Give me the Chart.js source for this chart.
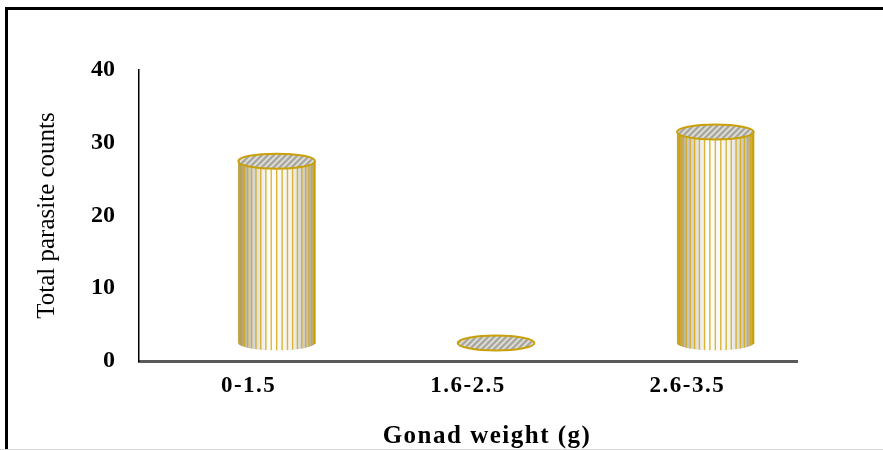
<!DOCTYPE html>
<html>
<head>
<meta charset="utf-8">
<script src="https://cdn.jsdelivr.net/npm/chart.js@4/dist/chart.umd.min.js"></script>
<style>
  html, body { margin: 0; padding: 0; background: #fff; }
  #wrap { position: relative; width: 883px; height: 450px; overflow: hidden; }
  #frame { position: absolute; left: 5px; top: 7px; width: 900px; height: 460px; border-left: 3px solid #000; border-top: 3px solid #000; box-sizing: border-box; pointer-events: none; }
  #foot { position: absolute; left: 0; top: 449px; width: 883px; height: 1px; background: #d8d8d8; }
  canvas { position: absolute; left: 0; top: 0; }
</style>
</head>
<body>
<div id="wrap">
  <canvas id="chart" width="883" height="450"></canvas>
  <div id="frame"></div>
  <div id="foot"></div>
</div>
<script>
const categories = ["0-1.5", "1.6-2.5", "2.6-3.5"];
const counts = [25, 0, 29];
const yMax = 40;
const yStep = 10;

const gold = "#c9a00a";
const stripe = "rgba(214,168,20,0.85)";

// hatch for the cylinder tops
function hatchPattern(ctx) {
    const c = document.createElement("canvas");
    c.width = 6; c.height = 6;
    const p = c.getContext("2d");
    p.fillStyle = "#a9a9a4";
    p.fillRect(0, 0, 6, 6);
    p.strokeStyle = "#e4e1d6";
    p.lineWidth = 1.6;
    p.beginPath();
    p.moveTo(-1, 7); p.lineTo(7, -1);
    p.moveTo(-1, 1); p.lineTo(1, -1);
    p.moveTo(5, 7); p.lineTo(7, 5);
    p.stroke();
    return ctx.createPattern(c, "repeat");
}

// the x axis text in the original is set wide, title sits a bit right
const wideXText = {
    id: "wideXText",
    beforeLayout(chart) {
        const sc = chart.scales.x;
        if (!sc || sc._wide) return;
        const orig = sc.draw;
        sc.draw = function (area) {
            const ctx = this.ctx;
            ctx.save();
            ctx.letterSpacing = "1.5px";
            orig.call(this, area);
            ctx.restore();
        };
        const origTitle = sc.drawTitle;
        sc.drawTitle = function () {
            const ctx = this.ctx;
            ctx.save();
            ctx.translate(19, 0);
            origTitle.call(this);
            ctx.restore();
        };
        sc._wide = true;
    }
};

const cylinders = {
    id: "cylinders",
    afterDatasetsDraw(chart) {
        const ctx = chart.ctx;
        const meta = chart.getDatasetMeta(0);
        const dx = 28, dy = -18, ry = 7.5;
        meta.data.forEach(el => {
            const cx = el.x + dx;
            const rx = el.width / 2;
            const topY = el.y + dy;
            const baseY = el.base + dy;
            ctx.save();
            if (baseY - topY > 0.5) {
                ctx.beginPath();
                ctx.moveTo(cx - rx, topY);
                ctx.lineTo(cx - rx, baseY);
                ctx.ellipse(cx, baseY, rx, ry, 0, Math.PI, 0, true);
                ctx.lineTo(cx + rx, topY);
                ctx.closePath();
                const g = ctx.createLinearGradient(cx - rx, 0, cx + rx, 0);
                g.addColorStop(0, "#8a8a85");
                g.addColorStop(0.12, "#c4c4be");
                g.addColorStop(0.4, "#ffffff");
                g.addColorStop(0.7, "#f2f2ee");
                g.addColorStop(0.92, "#c0c0ba");
                g.addColorStop(1, "#a4a49e");
                ctx.fillStyle = g;
                ctx.fill();
                ctx.save();
                ctx.clip();
                ctx.strokeStyle = stripe;
                ctx.lineWidth = 1.4;
                const n = 22;
                for (let k = 1; k < n; k++) {
                    const t = Math.PI * k / n;
                    const x = cx - rx * Math.cos(t);
                    ctx.beginPath();
                    ctx.moveTo(x, topY);
                    ctx.lineTo(x, baseY + ry * Math.sin(t));
                    ctx.stroke();
                }
                ctx.restore();
                ctx.strokeStyle = gold;
                ctx.lineWidth = 2;
                ctx.stroke();
            }
            ctx.beginPath();
            ctx.ellipse(cx, topY, rx, ry, 0, 0, Math.PI * 2);
            ctx.fillStyle = hatchPattern(ctx);
            ctx.fill();
            ctx.strokeStyle = gold;
            ctx.lineWidth = 2;
            ctx.stroke();
            ctx.restore();
        });
    }
};

new Chart(document.getElementById("chart"), {
    type: "bar",
    data: {
        labels: categories,
        datasets: [{
            data: counts,
            backgroundColor: "rgba(0,0,0,0)",
            borderWidth: 0,
            categoryPercentage: 1,
            barPercentage: 0.35
        }]
    },
    options: {
        responsive: false,
        animation: false,
        layout: { padding: { top: 70, right: 86, left: 0, bottom: 0 } },
        plugins: {
            legend: { display: false },
            tooltip: { enabled: false }
        },
        scales: {
            x: {
                grid: { display: false },
                border: { color: "#5a5a5a", width: 3 },
                ticks: {
                    color: "#000",
                    padding: 3,
                    font: { family: "Liberation Serif", size: 23, weight: "bold" }
                },
                title: {
                    display: true,
                    text: "Gonad weight (g)",
                    color: "#000",
                    padding: { top: 0, bottom: 0 },
                    font: { family: "Liberation Serif", size: 25, weight: "bold", lineHeight: 1.1 }
                },
                afterFit(s) { s.height = 89; }
            },
            y: {
                min: 0,
                max: yMax,
                grid: { display: false },
                border: { color: "#000", width: 1.5 },
                ticks: {
                    stepSize: yStep,
                    color: "#000",
                    padding: 16,
                    font: { family: "Liberation Serif", size: 24, weight: "bold" }
                },
                title: {
                    display: true,
                    text: "Total parasite counts",
                    color: "#000",
                    padding: { top: 32, bottom: 0 },
                    font: { family: "Liberation Serif", size: 25 }
                },
                afterFit(s) { s.width = 139; }
            }
        }
    },
    plugins: [wideXText, cylinders]
});
</script>
</body>
</html>
